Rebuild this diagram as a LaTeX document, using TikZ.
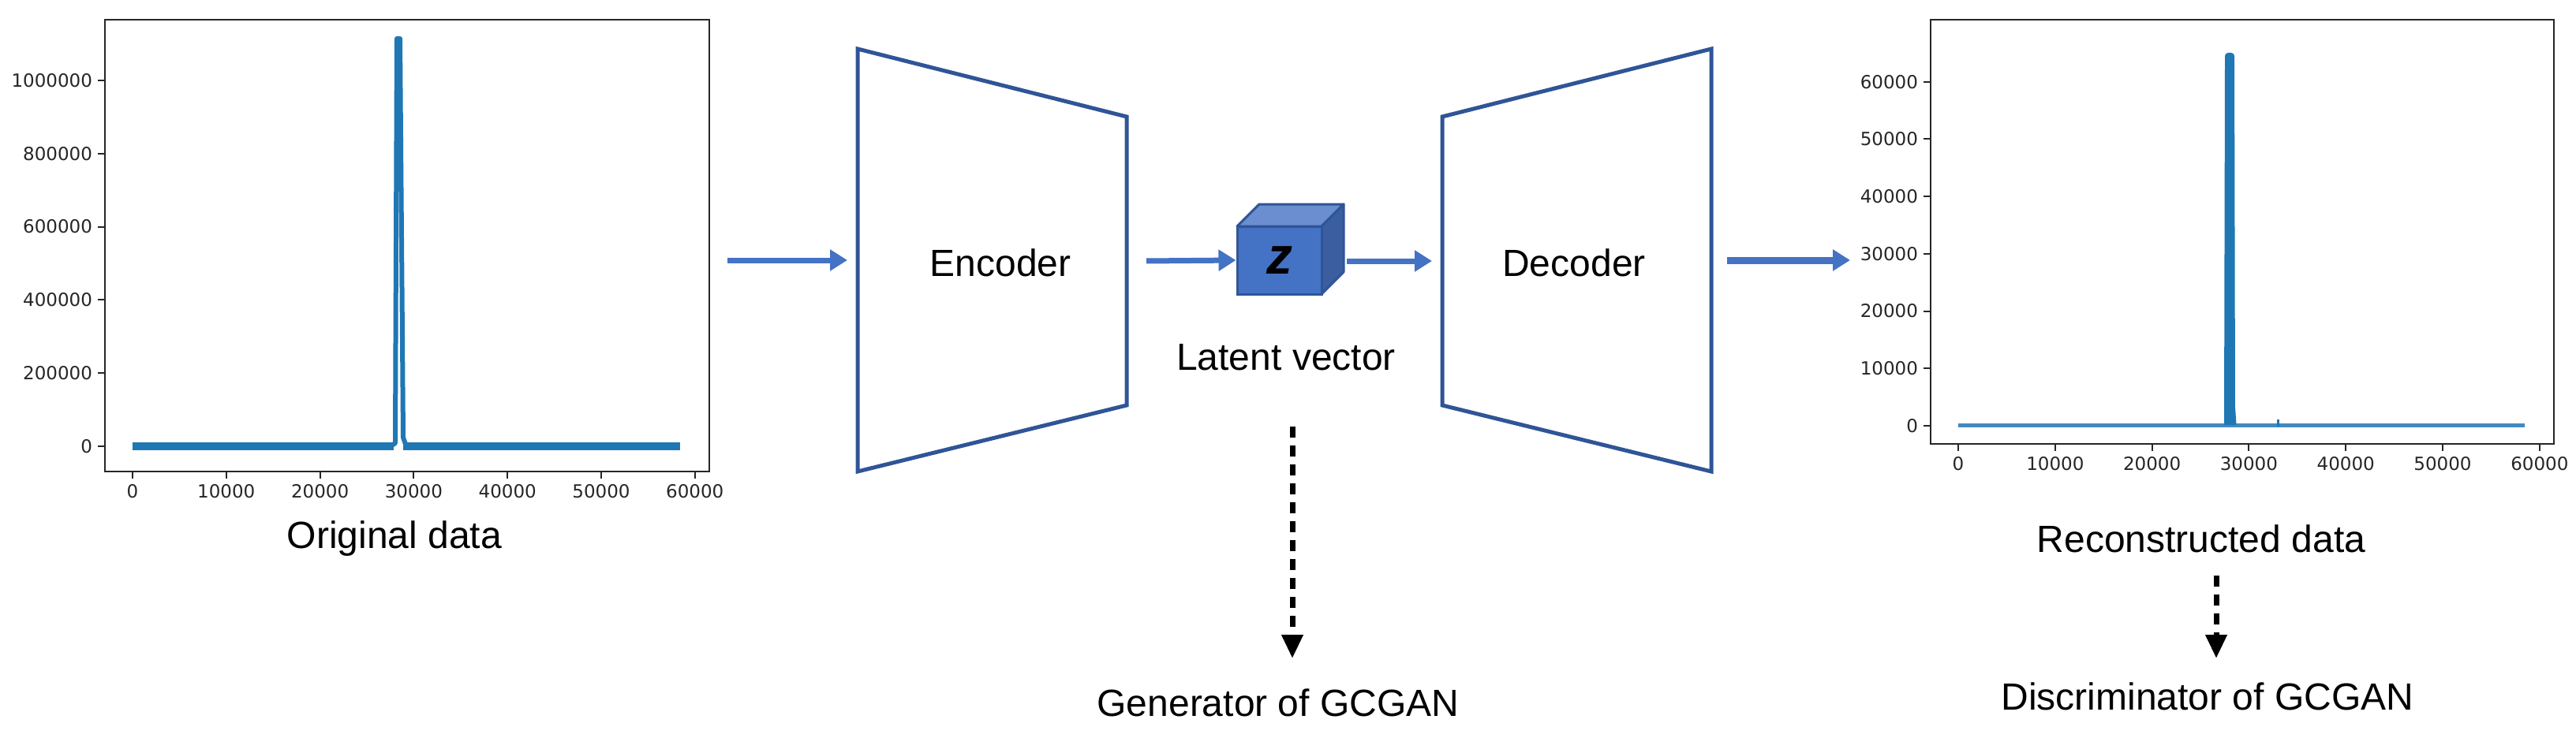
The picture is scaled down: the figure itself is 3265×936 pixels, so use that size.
\documentclass[tikz,border=0pt]{standalone}
\usepackage{fontspec}
\setmainfont{Liberation Sans}
\newfontfamily\tickfont{DejaVu Sans}
\usetikzlibrary{arrows.meta}
\definecolor{arr}{HTML}{4472C4}
\definecolor{edge}{HTML}{2F5597}
\definecolor{ctop}{HTML}{6A8ECF}
\definecolor{cside}{HTML}{3A5E9F}
\definecolor{plt}{HTML}{1F77B4}
\begin{document}
\begin{tikzpicture}[x=1pt,y=-1pt,
  lbl/.style={font=\fontsize{48}{56}\selectfont,inner sep=0pt},
  tick/.style={font=\tickfont\fontsize{23}{24}\selectfont,text=black!85,inner sep=0pt},
  flow/.style={draw=arr,line width=7pt,-{Triangle[length=22pt,width=26pt]}},
  dots/.style={draw=black,line width=7pt,dash pattern=on 14pt off 10pt,-{Triangle[length=30pt,width=26pt]}},
  trap/.style={draw=edge,line width=5pt,line join=miter},
  axis/.style={draw=black!85,line width=2pt}]
\useasboundingbox (0,0) rectangle (3265,936);
% ---------- left plot
\draw[axis] (133,25) rectangle (899,598);
\foreach \i/\l in {0/0,1/200000,2/400000,3/600000,4/800000,5/1000000}{
  \draw[axis] (133,566-92.8*\i) -- ++(-9,0) node[tick,anchor=east,xshift=-6pt]{\l};}
\foreach \i/\l in {0/0,1/10000,2/20000,3/30000,4/40000,5/50000,6/60000}{
  \draw[axis] (168+118.8*\i,598) -- ++(0,9) node[tick,anchor=north,yshift=-6pt]{\l};}
\draw[plt,line width=10pt] (168,566) -- (499,566);
\draw[plt,line width=10pt] (511,566) -- (862,566);
\draw[plt,line width=6pt,line join=round] (495,566) -- (501,562) -- (503,49) -- (507,49) -- (511,555) -- (515,566);
\node[lbl] (orig) at (500,683) {Original data};
% ---------- encoder
\draw[trap] (1087,62) -- (1428,148) -- (1428,514) -- (1087,598) -- cycle;
\node[lbl] (enc) at (1268,333) {Encoder};
\coordinate (a1s) at (922,330); \coordinate (a1e) at (1074,330);
\draw[flow] (a1s) -- (a1e);
% ---------- cube
\fill[ctop,draw=edge,line width=3pt,line join=round] (1568,287) -- (1596,259) -- (1703,259) -- (1675,287) -- cycle;
\fill[cside,draw=edge,line width=3pt,line join=round] (1675,287) -- (1703,259) -- (1703,345) -- (1675,373) -- cycle;
\node[draw=edge,fill=arr,line width=3pt,minimum width=107pt,minimum height=86pt,inner sep=0pt,
  font=\fontsize{66}{66}\selectfont\bfseries\itshape] (z) at (1621.5,330) {z};
\node[lbl] (lat) at (1630,453) {Latent vector};
\coordinate (a2s) at (1453,331);
\draw[flow] (a2s) -- (z.west);
\coordinate (a3s) at (1707,331); \coordinate (a3e) at (1815,331);
\draw[flow] (a3s) -- (a3e);
% ---------- decoder
\draw[trap] (1828,148) -- (2169,62) -- (2169,598) -- (1828,514) -- cycle;
\node[lbl] (dec) at (1995,333) {Decoder};
\coordinate (a4s) at (2189,330); \coordinate (a4e) at (2345,330);
\draw[flow,line width=9pt] (a4s) -- (a4e);
% ---------- right plot
\draw[axis] (2447,25) rectangle (3237,563);
\foreach \i/\l in {0/0,1/10000,2/20000,3/30000,4/40000,5/50000,6/60000}{
  \draw[axis] (2447,540-72.7*\i) -- ++(-9,0) node[tick,anchor=east,xshift=-6pt]{\l};}
\foreach \i/\l in {0/0,1/10000,2/20000,3/30000,4/40000,5/50000,6/60000}{
  \draw[axis] (2482+122.8*\i,563) -- ++(0,9) node[tick,anchor=north,yshift=-6pt]{\l};}
\draw[plt!85,line width=5pt] (2482,539) -- (3200,539);
\draw[plt,line width=8pt,line join=round] (2823,539) -- (2824,71) -- (2828,71) -- (2829,539);
\draw[plt,line width=3pt] (2829,480) -- (2833,539);
\draw[plt,line width=3pt] (2887,532) -- (2887,541);
\node[lbl] (rec) at (2790,683) {Reconstructed data};
% ---------- GCGAN labels
\coordinate (g1) at (1638,541);
\node[lbl] (gen) at (1620,891) {Generator of GCGAN};
\draw[dots] (g1) -- (1638,835);
\coordinate (d1) at (2809,730);
\node[lbl] (dis) at (2798,883) {Discriminator of GCGAN};
\draw[dots] (d1) -- (2809,835);
\end{tikzpicture}
\end{document}
